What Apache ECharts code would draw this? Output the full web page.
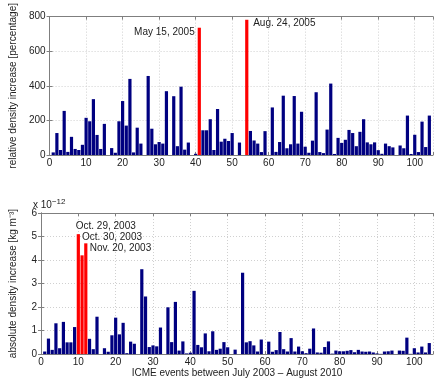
<!DOCTYPE html>
<html>
<head>
<meta charset="utf-8">
<script src="https://cdn.jsdelivr.net/npm/echarts@6/dist/echarts.min.js"></script>
<style>
	html, body { margin: 0; padding: 0; background: #fff; }
	#chart { width: 436px; height: 379px; }
</style>
</head>
<body>
<div id="chart"></div>
<script>
// event numbers 1..104
var events = [];
for (var n = 1; n <= 104; n++) events.push(n);

// relative density increase [%], event 1..104
var relValues = [
	15, 127, 29, 255, 18, 105, 35, 29, 59, 215,
	195, 323, 116, 35, 180, 0, 40, 13, 195, 312,
	170, 440, 15, 158, 66, 0, 457, 152, 62, 75,
	66, 369, 0, 340, 51, 395, 31, 72, 0, 7,
	736, 143, 143, 207, 29, 266, 77, 94, 81, 127,
	0, 72, 0, 782, 139, 84, 66, 17, 138, 0,
	275, 18, 75, 343, 39, 62, 341, 66, 250, 48,
	13, 83, 363, 17, 11, 147, 413, 6, 99, 70,
	88, 145, 127, 51, 134, 207, 73, 62, 73, 28,
	7, 66, 51, 44, 0, 55, 39, 228, 6, 117,
	17, 193, 46, 228
];

// absolute density increase [x 1e-12 kg m^-3], event 1..104
var absValues = [
	0.11, 0.66, 0.18, 1.31, 0.25, 1.37, 0.50, 0.50, 1.15, 5.10,
	4.20, 4.71, 0.65, 0.21, 1.59, 0, 0.25, 0.10, 0.80, 1.55,
	0.84, 1.33, 0.04, 0.53, 0.44, 0, 3.61, 2.45, 0.30, 0.37,
	0.33, 1.13, 0, 1.99, 0.51, 2.22, 0.15, 0.54, 0.03, 0.06,
	2.69, 0.39, 0.29, 0.88, 0.12, 0.97, 0.18, 0.23, 0.51, 0.29,
	0, 0.19, 0, 3.46, 0.50, 0.55, 0.37, 0.11, 0.62, 0,
	0.53, 0.10, 0.17, 0.94, 0.21, 0.11, 0.68, 0.11, 0.32, 0.12,
	0.04, 0.23, 1.09, 0.07, 0.06, 0.30, 0.54, 0.02, 0.15, 0.12,
	0.12, 0.14, 0.17, 0.08, 0.18, 0.11, 0.10, 0.11, 0.07, 0.03,
	0.01, 0.11, 0.12, 0.15, 0, 0.15, 0.14, 0.70, 0.01, 0.25,
	0.07, 0.32, 0.07, 0.47
];

var relHighlight = [41, 54];
var relNotes = ['May 15, 2005', 'Aug. 24, 2005'];
var absHighlight = [10, 11, 12];
var absNotes = ['Oct. 29, 2003', 'Oct. 30, 2003', 'Nov. 20, 2003'];

var xTicks = [0, 10, 20, 30, 40, 50, 60, 70, 80, 90, 100];
var relTicks = [0, 200, 400, 600, 800];
var absTicks = [0, 1, 2, 3, 4, 5, 6];

var navy = '#000080';
var red = '#ff0000';
var axisGray = '#7f7f7f';
var narrow = '"Liberation Sans Narrow", "Liberation Sans", Arial, sans-serif';
var regular = '"Liberation Sans", Arial, sans-serif';

// label offsets relative to the bar's top-left corner
var relNotePos = [
	{ position: [-3, 5], align: 'right' },
	{ position: [8, 3], align: 'left' }
];
var absNotePos = [
	{ position: [-1, -8], align: 'left' },
	{ position: [1.5, -18], align: 'left' },
	{ position: [5.5, 5], align: 'left' }
];

function buildData(values, highlight, notes, notePos) {
	return events.map(function (e, k) {
		var item = { value: [e, values[k]] };
		var h = highlight.indexOf(e);
		if (h >= 0) {
			item.itemStyle = { color: red };
			item.label = {
				show: true,
				formatter: notes[h],
				position: notePos[h].position,
				align: notePos[h].align,
				verticalAlign: 'middle',
				fontFamily: narrow,
				fontSize: 10,
				color: '#222'
			};
		}
		return item;
	});
}

function xAxisFor(gridIndex, position, main) {
	return {
		type: 'value',
		gridIndex: gridIndex,
		position: position,
		min: 0,
		max: 105,
		interval: 10,
		name: (main && gridIndex === 1) ? 'ICME events between July 2003 \u2013 August 2010' : '',
		nameLocation: 'middle',
		nameGap: 13,
		nameTextStyle: { fontFamily: narrow, fontSize: 10, color: '#222' },
		axisLine: { show: true, onZero: false, lineStyle: { color: axisGray, width: 1 } },
		axisTick: { show: true, inside: true, length: 3, lineStyle: { color: axisGray } },
		axisLabel: {
			show: main,
			margin: 3,
			fontFamily: narrow,
			fontSize: 10,
			color: '#222',
			formatter: function (v) { return xTicks.indexOf(v) >= 0 ? String(v) : ''; }
		},
		splitLine: { show: main, lineStyle: { color: '#d0d0d0', type: [1, 2] } }
	};
}

function yAxisFor(gridIndex, position, main, maxV, step, name) {
	return {
		type: 'value',
		gridIndex: gridIndex,
		position: position,
		min: 0,
		max: maxV,
		interval: step,
		name: main ? name : '',
		nameLocation: 'middle',
		nameGap: 23,
		nameTextStyle: { fontFamily: regular, fontSize: 10, color: '#222' },
		axisLine: { show: true, lineStyle: { color: axisGray, width: 1 } },
		axisTick: { show: true, inside: true, length: 3, lineStyle: { color: axisGray } },
		axisLabel: { show: main, margin: 4, fontFamily: narrow, fontSize: 10, color: '#222' },
		splitLine: { show: main, lineStyle: { color: '#d0d0d0', type: [1, 2] } }
	};
}

var chart = echarts.init(document.getElementById('chart'), null, { renderer: 'canvas' });

var option = {
	animation: false,
	backgroundColor: '#fff',
	grid: [
		{ left: 33, right: 3, top: 10, height: 145 },
		{ left: 33, right: 3, top: 213, height: 144 }
	],
	xAxis: [
		xAxisFor(0, 'bottom', true),
		xAxisFor(0, 'top', false),
		xAxisFor(1, 'bottom', true),
		xAxisFor(1, 'top', false)
	],
	yAxis: [
		yAxisFor(0, 'left', true, relTicks[relTicks.length - 1], relTicks[1] - relTicks[0], 'relative density increase [percentage]'),
		yAxisFor(0, 'right', false, relTicks[relTicks.length - 1], relTicks[1] - relTicks[0], ''),
		yAxisFor(1, 'left', true, absTicks[absTicks.length - 1], absTicks[1] - absTicks[0], 'absolute density increase [kg m\u207B\u00B3]'),
		yAxisFor(1, 'right', false, absTicks[absTicks.length - 1], absTicks[1] - absTicks[0], '')
	],
	graphic: [
		{
			type: 'text',
			left: 33,
			top: 198,
			style: {
				text: '{a|x 10}{b|\u221212}',
				rich: {
					a: { fontFamily: narrow, fontSize: 10, fill: '#222', padding: [6, 0, 0, 0] },
					b: { fontFamily: narrow, fontSize: 8, fill: '#222' }
				}
			}
		}
	],
	series: [
		{
			type: 'bar',
			xAxisIndex: 0,
			yAxisIndex: 0,
			barWidth: 3.2,
			itemStyle: { color: navy },
			data: buildData(relValues, relHighlight, relNotes, relNotePos)
		},
		{
			type: 'bar',
			xAxisIndex: 2,
			yAxisIndex: 2,
			barWidth: 3.2,
			itemStyle: { color: navy },
			data: buildData(absValues, absHighlight, absNotes, absNotePos)
		}
	]
};

chart.setOption(option);
</script>
</body>
</html>
